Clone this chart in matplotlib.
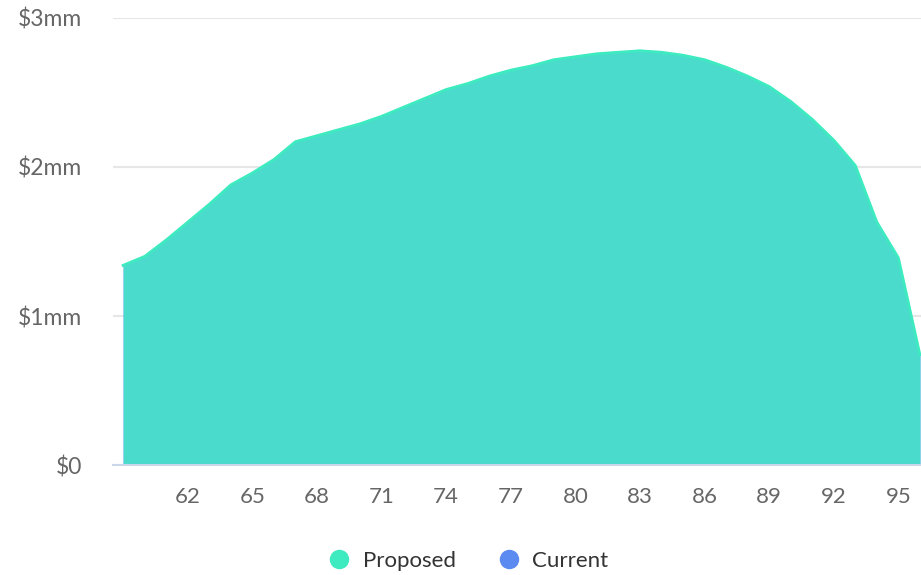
import matplotlib.pyplot as plt
from matplotlib.lines import Line2D

# ages and projected values (in $mm)
ages = list(range(59, 97))
proposed = [1.34, 1.40, 1.51, 1.63, 1.75, 1.88, 1.96, 2.05, 2.17, 2.21,
            2.25, 2.29, 2.34, 2.40, 2.46, 2.52, 2.56, 2.61, 2.65, 2.68,
            2.72, 2.74, 2.76, 2.77, 2.78, 2.77, 2.75, 2.72, 2.67, 2.61,
            2.54, 2.44, 2.32, 2.18, 2.01, 1.63, 1.39, 0.74]
current = proposed  # hidden behind the proposed area

series_names = ['Proposed', 'Current']
series_colors = ['#3eeac0', '#5b8af0']
fill_color = '#4bdbcc'

x_ticks = list(range(62, 96, 3))
y_ticks = [0, 1, 2, 3]
y_labels = ['$0', '$1mm', '$2mm', '$3mm']

plt.rcParams['font.family'] = ['Lato', 'DejaVu Sans']

fig = plt.figure(figsize=(9.21, 5.75), dpi=100)
ax = fig.add_axes([0.1227, 0.1913, 0.8773, 0.7774])

ax.fill_between(ages, current, color=series_colors[1], lw=0)
ax.fill_between(ages, proposed, color=fill_color, lw=0, zorder=2)
ax.plot(ages, proposed, color=series_colors[0], lw=2, zorder=3, solid_joinstyle='round')

ax.set_xlim(58.53, 96.05)
ax.set_ylim(0, 3)
ax.set_xticks(x_ticks)
ax.set_yticks(y_ticks)
ax.set_yticklabels(y_labels)
ax.grid(axis='y', color='#e6e6e6', lw=1.5)
ax.set_axisbelow(True)

for s in ['top', 'right', 'left']:
    ax.spines[s].set_visible(False)
ax.spines['bottom'].set_color('#ccd6eb')
ax.spines['bottom'].set_linewidth(1.5)
ax.spines['bottom'].set_zorder(4)

ax.tick_params(axis='y', length=0, pad=22, labelsize=16.5, labelcolor='#666666')
ax.tick_params(axis='x', length=0, pad=16, labelsize=16, labelcolor='#666666')

handles = [Line2D([], [], marker='o', ls='', markersize=13, color=c) for c in series_colors]
fig.legend(handles, series_names, loc='center', bbox_to_anchor=(0.5025, 0.025),
           ncol=2, frameon=False, fontsize=16, labelcolor='#333333',
           handletextpad=0.05, columnspacing=1.4)

fig.savefig('out.png', dpi=100)
